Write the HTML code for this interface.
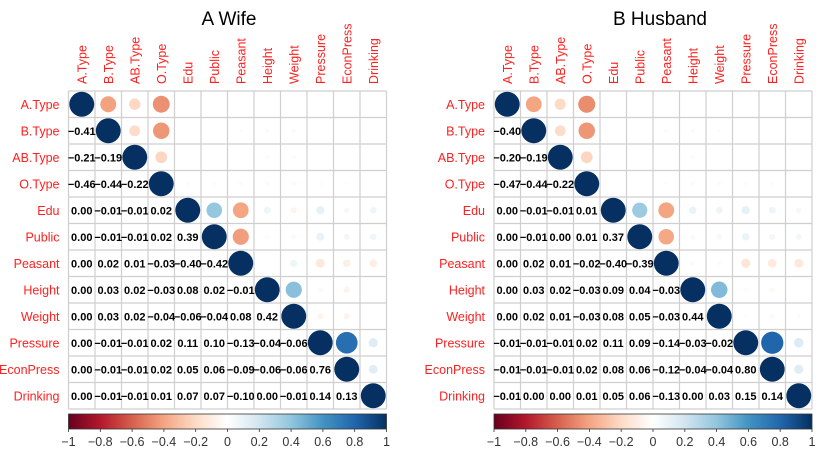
<!DOCTYPE html>
<html><head><meta charset="utf-8">
<style>
html,body{margin:0;padding:0;background:#fff;}
svg{display:block;font-family:"Liberation Sans",Arial,sans-serif;}
</style></head>
<body>
<svg id="chart" width="831" height="452" viewBox="0 0 831 452"></svg>
<script>
const varNames = ["A.Type","B.Type","AB.Type","O.Type","Edu","Public","Peasant","Height","Weight","Pressure","EconPress","Drinking"];
const wifeLower = [
 [],
 [-0.41],
 [-0.21,-0.19],
 [-0.46,-0.44,-0.22],
 [0.00,-0.01,-0.01,0.02],
 [0.00,-0.01,-0.01,0.02,0.39],
 [0.00,0.02,0.01,-0.03,-0.40,-0.42],
 [0.00,0.03,0.02,-0.03,0.08,0.02,-0.01],
 [0.00,0.03,0.02,-0.04,-0.06,-0.04,0.08,0.42],
 [0.00,-0.01,-0.01,0.02,0.11,0.10,-0.13,-0.04,-0.06],
 [0.00,-0.01,-0.01,0.02,0.05,0.06,-0.09,-0.06,-0.06,0.76],
 [0.00,-0.01,-0.01,0.01,0.07,0.07,-0.10,0.00,-0.01,0.14,0.13]
];
const husbandLower = [
 [],
 [-0.40],
 [-0.20,-0.19],
 [-0.47,-0.44,-0.22],
 [0.00,-0.01,-0.01,0.01],
 [0.00,-0.01,0.00,0.01,0.37],
 [0.00,0.02,0.01,-0.02,-0.40,-0.39],
 [0.00,0.03,0.02,-0.03,0.09,0.04,-0.03],
 [0.00,0.02,0.01,-0.03,0.08,0.05,-0.03,0.44],
 [-0.01,-0.01,-0.01,0.02,0.11,0.09,-0.14,-0.03,-0.02],
 [-0.01,-0.01,-0.01,0.02,0.08,0.06,-0.12,-0.04,-0.04,0.80],
 [-0.01,0.00,0.00,0.01,0.05,0.06,-0.13,0.00,0.03,0.15,0.14]
];
const colorTicks = [-1,-0.8,-0.6,-0.4,-0.2,0,0.2,0.4,0.6,0.8,1];
const palette = ["#67001F","#B2182B","#D6604D","#F4A582","#FDDBC7","#FFFFFF","#D1E5F0","#92C5DE","#4393C3","#2166AC","#053061"];

const NS="http://www.w3.org/2000/svg";
const svg=document.getElementById('chart');
function mk(tag,attrs,parent){const e=document.createElementNS(NS,tag);for(const k in attrs)e.setAttribute(k,attrs[k]);(parent||svg).appendChild(e);return e;}
function hex2rgb(h){return [1,3,5].map(i=>parseInt(h.substr(i,2),16));}
function colorOf(v){
  const t=(Math.max(-1,Math.min(1,v))+1)/2*(palette.length-1);
  const i=Math.min(palette.length-2,Math.floor(t)),f=t-i;
  const a=hex2rgb(palette[i]),b=hex2rgb(palette[i+1]);
  return "rgb("+a.map((c,k)=>Math.round(c+(b[k]-c)*f)).join(",")+")";
}
function fmt(v){const s=Math.abs(v).toFixed(2);return (v<0&&s!=="0.00"?"\u2212":"")+s;}

function panel(title,lower,x0,titleX){
  const n=varNames.length, y0=91, W=318, cs=W/n;
  const g=mk('g',{});
  
  
  const t=mk('text',{x:titleX,y:25,'text-anchor':'middle','font-size':19,fill:'#000'},g);
  t.textContent=title;
  
  
  const val=(i,j)=> i===j?1:(i>j?lower[i][j]:lower[j][i]);
  // grid
  for(let k=0;k<=n;k++){
    mk('line',{x1:x0+k*cs,y1:y0,x2:x0+k*cs,y2:y0+W,stroke:'#cfcfcf','stroke-width':1.2},g);
    mk('line',{x1:x0,y1:y0+k*cs,x2:x0+W,y2:y0+k*cs,stroke:'#cfcfcf','stroke-width':1.2},g);
  }
  for(let i=0;i<n;i++){
    const rl=mk('text',{x:x0-9,y:y0+(i+0.5)*cs+4.5,'text-anchor':'end','font-size':12.5,fill:'#FF2020'},g);
    rl.textContent=varNames[i];
    
    
    const cx=x0+(i+0.5)*cs+4.5;
    const cl=mk('text',{x:cx,y:y0-7,'font-size':12.5,fill:'#FF2020',transform:`rotate(-90 ${cx} ${y0-7})`},g);
    cl.textContent=varNames[i];
    
    
    for(let j=0;j<n;j++){
      const v=val(i,j), ccx=x0+(j+0.5)*cs, ccy=y0+(i+0.5)*cs;
      if(j>=i){
        const r=Math.sqrt(Math.abs(v))*cs*0.47;
        const c=mk('circle',{cx:ccx,cy:ccy,r:Math.max(r,0.01),fill:colorOf(v)},g);
        
        
      } else {
        const tx=mk('text',{x:ccx,y:ccy+4,'text-anchor':'middle','font-size':11,'font-weight':'bold',fill:'#000'},g);
        tx.textContent=fmt(v);
        
        
      }
    }
  }
  // colorbar
  const gid='grad'+x0;
  const defs=mk('defs',{},g);
  const lg=mk('linearGradient',{id:gid,x1:0,x2:1,y1:0,y2:0},defs);
  palette.forEach((c,k)=>mk('stop',{offset:k/(palette.length-1),'stop-color':c},lg));
  const cb=mk('rect',{x:x0,y:414,width:W,height:15,fill:`url(#${gid})`,stroke:'#333','stroke-width':0.8},g);
  
  
  colorTicks.forEach(v=>{
    const x=x0+(v+1)/2*W;
    mk('line',{x1:x,y1:429,x2:x,y2:432,stroke:'#333','stroke-width':0.8},g);
    const tl=mk('text',{x:x,y:446,'text-anchor':'middle','font-size':12.5,fill:'#333'},g);
    tl.textContent=(v<0?"\u2212":"")+Math.abs(v);
    
    
  });
}
panel("A Wife",wifeLower,68.5,229);
panel("B Husband",husbandLower,494,660);
</script>
</body></html>
